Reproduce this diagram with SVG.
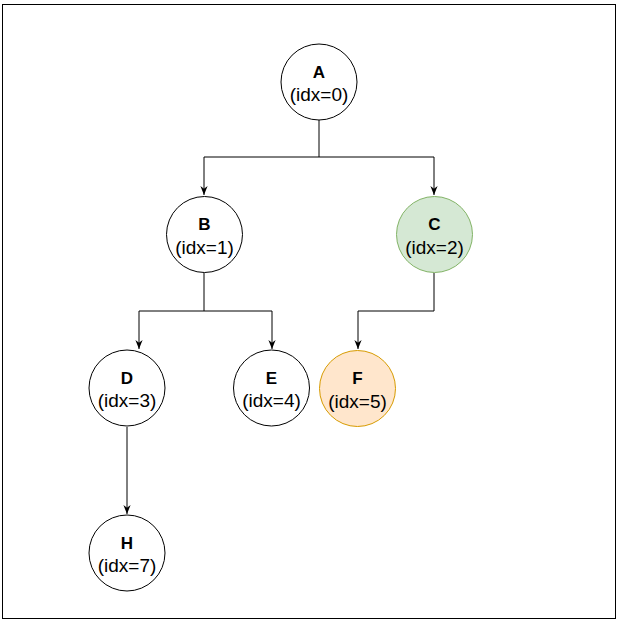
<svg xmlns="http://www.w3.org/2000/svg" width="622" height="625" viewBox="0 0 622 625">
<style>
.n{fill:#ffffff;stroke:#000000;stroke-width:1}
.g{fill:#d5e8d4;stroke:#82b366;stroke-width:1}
.o{fill:#ffe6cc;stroke:#d79b00;stroke-width:1}
.t{font-family:"Liberation Sans",Arial,sans-serif;font-size:17px;font-weight:bold;text-anchor:middle;fill:#000}
.s{font-family:"Liberation Sans",Arial,sans-serif;font-size:19px;text-anchor:middle;fill:#000}
.e{fill:none;stroke:#000;stroke-width:1}
</style>
<defs>
<marker id="ar" viewBox="0 0 10 10" refX="10" refY="5" markerWidth="9" markerHeight="9" markerUnits="userSpaceOnUse" orient="auto">
<path d="M0,1 L10,5 L0,9 L3,5 Z" fill="#000"/>
</marker>
</defs>
<rect x="2.5" y="4.5" width="613" height="614" fill="#ffffff" stroke="#000" stroke-width="1"/>
<g id="connectors">
<path class="e" d="M319,120 V157 H204 V195" marker-end="url(#ar)"/>
<path class="e" d="M319,157 H434 V195" marker-end="url(#ar)"/>
<path class="e" d="M204,273 V311 H139 V349" marker-end="url(#ar)"/>
<path class="e" d="M204,311 H272 V349" marker-end="url(#ar)"/>
<path class="e" d="M434,273 V311 H358 V349" marker-end="url(#ar)"/>
<path class="e" d="M127,427 V514" marker-end="url(#ar)"/>
</g>
<g id="A"><circle class="n" cx="319" cy="82" r="38"/><text class="t" x="319" y="77.5">A</text><text class="s" x="319" y="101">(idx=0)</text></g>
<g id="B"><circle class="n" cx="204.5" cy="234.5" r="38"/><text class="t" x="204.5" y="230">B</text><text class="s" x="204.5" y="253.5">(idx=1)</text></g>
<g id="C"><circle class="g" cx="434.5" cy="234.5" r="38"/><text class="t" x="434.5" y="230">C</text><text class="s" x="434.5" y="253.5">(idx=2)</text></g>
<g id="D"><circle class="n" cx="127" cy="388" r="38"/><text class="t" x="127" y="383.5">D</text><text class="s" x="127" y="407">(idx=3)</text></g>
<g id="E"><circle class="n" cx="271.5" cy="388" r="38"/><text class="t" x="271.5" y="383.5">E</text><text class="s" x="271.5" y="407">(idx=4)</text></g>
<g id="F"><circle class="o" cx="357.5" cy="388.5" r="38"/><text class="t" x="357.5" y="384">F</text><text class="s" x="357.5" y="407.5">(idx=5)</text></g>
<g id="H"><circle class="n" cx="127" cy="553" r="38"/><text class="t" x="127" y="548.5">H</text><text class="s" x="127" y="572">(idx=7)</text></g>
</svg>
